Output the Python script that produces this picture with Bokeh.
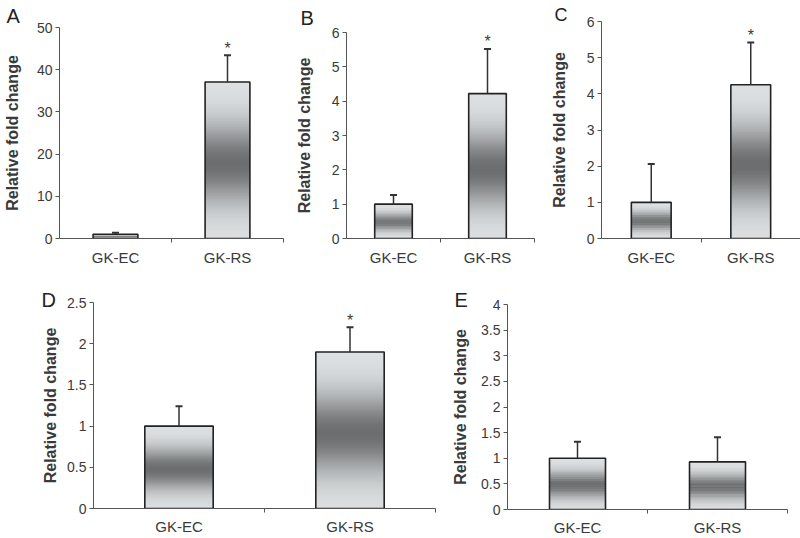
import numpy as np
from bokeh.plotting import figure
from bokeh.layouts import column, row
from bokeh.models import FixedTicker, ColumnDataSource
from bokeh.core.properties import value
from bokeh.embed import file_html
from bokeh.resources import INLINE

# ---- data ----
categories = ["GK-EC", "GK-RS"]

a_means = [1.0, 37.1]
a_errs = [0.35, 6.3]
a_stars = ["", "*"]

b_means = [1.0, 4.22]
b_errs = [0.27, 1.30]
b_stars = ["", "*"]

c_means = [1.0, 4.25]
c_errs = [1.06, 1.17]
c_stars = ["", "*"]

d_means = [1.0, 1.90]
d_errs = [0.24, 0.30]
d_stars = ["", "*"]

e_means = [1.0, 0.93]
e_errs = [0.32, 0.48]
e_stars = ["", ""]

a_ticks = [0, 10, 20, 30, 40, 50]
b_ticks = [0, 1, 2, 3, 4, 5, 6]
c_ticks = [0, 1, 2, 3, 4, 5, 6]
d_ticks = [0, 0.5, 1, 1.5, 2, 2.5]
e_ticks = [0, 0.5, 1, 1.5, 2, 2.5, 3, 3.5, 4]

FONT = "Liberation Sans"
TXT = "#3a3a3a"
AX = "#555555"
LIGHT = np.array([223, 226, 228])
DARK = np.array([108, 110, 112])
NSTRIP = 80


def grad_color(t):
    f = np.exp(-((t - 0.48) / 0.25) ** 2)
    c = LIGHT - (LIGHT - DARK) * f
    return "#%02x%02x%02x" % tuple(int(round(v)) for v in c)


def panel(letter, means, errs, stars, ticks, fw, fh, bl, br, bt, bb,
          lab_standoff, let_dx, let_standoff, let_size, x_standoff):
    ymax = ticks[-1]
    p = figure(frame_width=fw, frame_height=fh, x_range=(0, 2), y_range=(0, ymax),
               output_backend="svg", toolbar_location=None)
    p.frame_align = False
    p.min_border_left = bl
    p.min_border_right = br
    p.min_border_top = bt
    p.min_border_bottom = bb
    p.outline_line_color = None
    p.xgrid.visible = False
    p.ygrid.visible = False
    p.background_fill_color = "white"
    p.border_fill_color = "white"

    xc = [i + 0.5 for i in range(len(categories))]
    half = 0.2
    # gradient strips
    L, R, B, T, C = [], [], [], [], []
    for x, m in zip(xc, means):
        edges = np.linspace(0, m, NSTRIP + 1)
        step = m / NSTRIP
        for k in range(NSTRIP):
            L.append(x - half)
            R.append(x + half)
            B.append(edges[k])
            T.append(min(edges[k + 1] + step * 0.8, m))
            C.append(grad_color((k + 0.5) / NSTRIP))
    p.quad(left=L, right=R, bottom=B, top=T, fill_color=C, line_color=None)
    # outline
    p.vbar(x=xc, top=means, width=2 * half, bottom=0, fill_color=None,
           line_color="#222222", line_width=1.6)
    # error bars (upper)
    tops = [m + e for m, e in zip(means, errs)]
    p.segment(x0=xc, y0=means, x1=xc, y1=tops, line_color="#333333", line_width=1.5)
    p.scatter(x=xc, y=tops, marker="dash", size=7, line_color="#333333", line_width=2)
    # stars
    src = ColumnDataSource(dict(x=xc, y=tops, t=stars))
    p.text(x="x", y="y", text="t", source=src, text_align="center",
           text_baseline="alphabetic", y_offset=-7, text_font=value(FONT),
           text_font_size="16px", text_color=TXT)

    # y axis
    ya = p.yaxis[0]
    ya.ticker = FixedTicker(ticks=ticks)
    ya.major_label_overrides = {t: ("%g" % t) for t in ticks}
    ya.axis_line_color = AX
    ya.major_tick_line_color = AX
    ya.major_tick_out = 4
    ya.major_tick_in = 0
    ya.minor_tick_line_color = None
    ya.major_label_standoff = 3
    ya.major_label_text_font = FONT
    ya.major_label_text_font_size = "14px"
    ya.major_label_text_color = TXT
    ya.axis_label = "Relative fold change"
    ya.axis_label_text_font = FONT
    ya.axis_label_text_font_style = "bold"
    ya.axis_label_text_font_size = "16px"
    ya.axis_label_text_color = TXT
    ya.axis_label_standoff = lab_standoff

    # x axis
    xa = p.xaxis[0]
    xa.ticker = FixedTicker(ticks=xc, minor_ticks=[1, 2])
    xa.major_label_overrides = {x: c for x, c in zip(xc, categories)}
    xa.axis_line_color = AX
    xa.major_tick_line_color = None
    xa.major_tick_out = 0
    xa.major_tick_in = 0
    xa.minor_tick_line_color = AX
    xa.minor_tick_out = 4
    xa.minor_tick_in = 0
    xa.major_label_standoff = x_standoff
    xa.major_label_text_font = FONT
    xa.major_label_text_font_size = "15px"
    xa.major_label_text_color = TXT

    # panel letter
    p.title.text = letter
    p.title.align = "left"
    p.title.offset = let_dx
    p.title.standoff = let_standoff
    p.title.vertical_align = "bottom"
    p.title.text_font = FONT
    p.title.text_font_size = let_size
    p.title.text_font_style = "normal"
    p.title.text_color = "#222222"
    return p


pa = panel("A", a_means, a_errs, a_stars, a_ticks, 224, 211, 53, 5, 27, 30, 13, -53, 2, "20px", 6)
pb = panel("B", b_means, b_errs, b_stars, b_ticks, 188, 206, 58, 7, 32, 30, 16, -46, 7, "20px", 6)
pc = panel("C", c_means, c_errs, c_stars, c_ticks, 199, 217, 60, 4, 21, 30, 16, -47, -6, "18px", 6)
pd = panel("D", d_means, d_errs, d_stars, d_ticks, 342, 206, 93, 9, 34, 28, 5, -52, -16, "20px", 5)
pe = panel("E", e_means, e_errs, e_stars, e_ticks, 280, 205, 63, 11, 36, 27, 9, -53, -12, "20px", 5)

layout = column(row(pa, pb, pc), row(pd, pe))

open("out.html", "w").write(file_html(layout, INLINE))
